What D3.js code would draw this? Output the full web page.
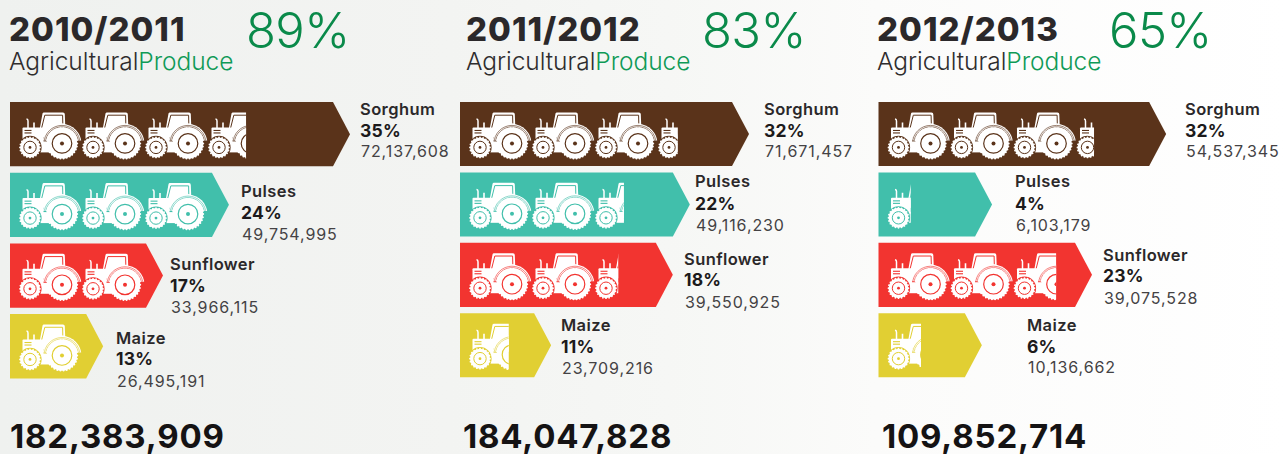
<!DOCTYPE html>
<html>
<head>
<meta charset="utf-8">
<script src="https://cdn.jsdelivr.net/npm/d3@7"></script>
<style>
  html, body { margin: 0; padding: 0; background: #fff; overflow: hidden; }
  svg { display: block; font-family: Inter, Lato, "Open Sans", sans-serif; }
</style>
</head>
<body>
<script>
// Seasons and headline figures
const seasons = ["2010/2011", "2011/2012", "2012/2013"];
const overallShare = [89, 83, 65];
const seasonTotals = [182383909, 184047828, 109852714];

// Crops, one row per crop in each season
const crops = ["Sorghum", "Pulses", "Sunflower", "Maize"];
const cropColors = ["#5a331a", "#41bfab", "#f23430", "#e1cf33"];

const sharePct = [
  [35, 24, 17, 13],
  [32, 22, 18, 11],
  [32, 4, 23, 6]
];
const production = [
  [72137608, 49754995, 33966115, 26495191],
  [71671457, 49116230, 39550925, 23709216],
  [54537345, 6103179, 39075528, 10136662]
];
// Tractors shown in each row, a fraction meaning a cut-off tractor
const tractorCount = [
  [3.65, 3, 2, 1],
  [3.33, 2.49, 2.39, 0.68],
  [3.29, 0.39, 2.73, 0.57]
];
// Arrow length as drawn, relative to the longest arrow (100)
const arrowLength = [
  [100, 64.4, 45, 27.4],
  [85, 67.6, 62.6, 26.8],
  [84.6, 33.4, 62.8, 30.4]
];

// Page layout
const width = 1287, height = 454;
const panelLeft = [10, 460, 878.5];
const titleLeft = [9, 466, 877];
const bigPctLeft = [246, 702, 1109];
const totalLeft = [10, 463, 882];
const rowsBottom = [378.4, 377.3, 377.3];
const rowsTop = 102;
const arrowHead = 17;
const labelLeft = [
  [360, 241, 170, 116],
  [764, 695, 684, 561],
  [1185, 1015, 1103, 1027]
];
const labelBaseline = [
  [[115, 137, 157], [197, 219, 240], [270, 292, 313], [344, 365, 387]],
  [[115, 137, 157], [187, 210, 231], [265, 286, 308], [331, 353, 374]],
  [[115, 137, 157], [187, 210, 231], [261, 282, 304], [331, 353, 373]]
];

const fmt = d3.format(",");
const arrowX = d3.scaleLinear().domain([0, 100]).range([0, 340]);
const tractorX = d3.scaleLinear().domain([0, 1]).range([10, 73]);
const tractorW = 57;

const svg = d3.select("body").append("svg")
  .attr("width", width).attr("height", height)
  .attr("viewBox", [0, 0, width, height]);

const defs = svg.append("defs");

// Backdrop fading from pale grey to white across the page
const bg = defs.append("linearGradient").attr("id", "backdrop");
[[0, "#eff1ef"], [0.35, "#f3f4f2"], [0.52, "#f6f7f5"], [0.68, "#fbfbfa"], [1, "#ffffff"]]
  .forEach(([o, c]) => bg.append("stop").attr("offset", o).attr("stop-color", c));
svg.append("rect").attr("width", width).attr("height", height).attr("fill", "url(#backdrop)");

// Tractor glyph: white silhouette, details take the row colour through currentColor
const glyph = defs.append("g").attr("id", "tractor");
const knobbedWheel = (cx, cy, r, knobs, knobR) => {
  glyph.append("circle").attr("cx", cx).attr("cy", cy).attr("r", r).attr("fill", "#fff");
  d3.range(knobs).forEach(i => {
    const a = i / knobs * 2 * Math.PI;
    glyph.append("circle")
      .attr("cx", cx + Math.cos(a) * r).attr("cy", cy + Math.sin(a) * r)
      .attr("r", knobR).attr("fill", "#fff");
  });
};
// cab and hood
glyph.append("path").attr("fill", "#fff")
  .attr("d", "M22.5,1.2Q22.7,0 24,0L43,0Q44.8,0 44.8,1.8L45.5,20L18,26Z");
glyph.append("path").attr("fill", "none").attr("stroke", "currentColor").attr("stroke-width", 1)
  .attr("d", "M20,22L24.8,2.8L42.6,2.8L42.8,11");
glyph.append("rect").attr("x", 2.5).attr("y", 15).attr("width", 21).attr("height", 16).attr("rx", 1).attr("fill", "#fff");
glyph.append("rect").attr("x", 4.5).attr("y", 17.5).attr("width", 7).attr("height", 1.1).attr("fill", "currentColor");
glyph.append("rect").attr("x", 4.5).attr("y", 20).attr("width", 7).attr("height", 1.1).attr("fill", "currentColor");
// exhaust stacks
glyph.append("path").attr("fill", "none").attr("stroke", "#fff").attr("stroke-width", 1.5)
  .attr("d", "M8,16L8,8.5Q8,6.8 6.5,6.6");
glyph.append("path").attr("fill", "none").attr("stroke", "#fff").attr("stroke-width", 1.6)
  .attr("d", "M14,16L14,10");
// chassis between the axles
glyph.append("rect").attr("x", 14).attr("y", 29).attr("width", 20).attr("height", 11).attr("fill", "#fff");
// mudguard over the rear wheel, ribbed with two thin arcs
glyph.append("circle").attr("cx", 42).attr("cy", 31).attr("r", 19.4)
  .attr("fill", "#fff").attr("clip-path", "url(#guardClip)");
defs.append("clipPath").attr("id", "guardClip")
  .append("rect").attr("x", 20).attr("y", 8).attr("width", 42).attr("height", 20);
[18, 16.6].forEach(r => {
  glyph.append("circle").attr("cx", 42).attr("cy", 31).attr("r", r)
    .attr("fill", "none").attr("stroke", "currentColor").attr("stroke-width", 0.6)
    .attr("clip-path", "url(#guardClip)");
});
// wheels
knobbedWheel(42, 31, 15.2, 30, 1);
glyph.append("circle").attr("cx", 42).attr("cy", 31).attr("r", 9.8).attr("fill", "none")
  .attr("stroke", "currentColor").attr("stroke-width", 1.2);
glyph.append("circle").attr("cx", 42).attr("cy", 31).attr("r", 2).attr("fill", "currentColor");
glyph.append("circle").attr("cx", 10).attr("cy", 35).attr("r", 11.6).attr("fill", "currentColor");
knobbedWheel(10, 35, 10, 20, 0.9);
glyph.append("circle").attr("cx", 10).attr("cy", 35).attr("r", 6.2).attr("fill", "none")
  .attr("stroke", "currentColor").attr("stroke-width", 1);
glyph.append("circle").attr("cx", 10).attr("cy", 35).attr("r", 1.4).attr("fill", "currentColor");

seasons.forEach((season, s) => {
  const panel = svg.append("g").attr("class", "season");

  // Season heading
  panel.append("text").attr("x", titleLeft[s]).attr("y", 41)
    .attr("font-size", 33).attr("font-weight", 800).attr("letter-spacing", 1)
    .attr("fill", "#2b282a").text(season);
  const sub = panel.append("text").attr("x", titleLeft[s]).attr("y", 70)
    .attr("font-size", 24.5).attr("font-weight", 300).attr("letter-spacing", -0.05);
  sub.append("tspan").attr("fill", "#2f2d2e").text("Agricultural");
  sub.append("tspan").attr("fill", "#0f9a57").text("Produce");
  panel.append("text").attr("x", bigPctLeft[s]).attr("y", 48)
    .attr("font-size", 49).attr("font-weight", 300).attr("letter-spacing", -0.6)
    .attr("fill", "#0a8a4a").text(overallShare[s] + "%");

  // Crop rows
  const rowY = d3.scaleBand().domain(crops)
    .range([rowsTop, rowsBottom[s]]).paddingInner(0.09).paddingOuter(0);

  crops.forEach((crop, c) => {
    const left = panelLeft[s], top = rowY(crop), h = rowY.bandwidth();
    const tip = left + arrowX(arrowLength[s][c]);
    const row = panel.append("g").attr("class", "row").style("color", cropColors[c]);

    const arrow = d3.path();
    arrow.moveTo(left, top);
    arrow.lineTo(tip - arrowHead, top);
    arrow.lineTo(tip, top + h / 2);
    arrow.lineTo(tip - arrowHead, top + h);
    arrow.lineTo(left, top + h);
    arrow.closePath();
    row.append("path").attr("d", arrow.toString()).attr("fill", cropColors[c]);

    // Whole tractors plus a cut-off last one
    const count = tractorCount[s][c];
    d3.range(Math.ceil(count)).forEach(i => {
      const visible = Math.min(1, count - i);
      const id = `cut-${s}-${c}-${i}`;
      defs.append("clipPath").attr("id", id).append("rect")
        .attr("x", -3).attr("y", -3)
        .attr("width", visible * tractorW + (visible < 1 ? 3 : 8)).attr("height", 56);
      row.append("g")
        .attr("transform", `translate(${left + tractorX(i)},${top + 10.4})`)
        .attr("clip-path", `url(#${id})`)
        .append("use").attr("href", "#tractor");
    });

    // Crop label, share and production figure
    const [y0, y1, y2] = labelBaseline[s][c];
    const x = labelLeft[s][c];
    panel.append("text").attr("x", x).attr("y", y0)
      .attr("font-size", 16.5).attr("font-weight", 600).attr("letter-spacing", 0.4)
      .attr("fill", "#2b282a").text(crop);
    panel.append("text").attr("x", x).attr("y", y1)
      .attr("font-size", 17.5).attr("font-weight", 700).attr("letter-spacing", 0.2)
      .attr("fill", "#1c1a1b").text(sharePct[s][c] + "%");
    panel.append("text").attr("x", x + 1).attr("y", y2)
      .attr("font-size", 16).attr("font-weight", 400).attr("letter-spacing", 0.9)
      .attr("fill", "#444244").text(fmt(production[s][c]));
  });

  // Season total
  panel.append("text").attr("x", totalLeft[s]).attr("y", 448)
    .attr("font-size", 33).attr("font-weight", 700).attr("letter-spacing", 0.8)
    .attr("fill", "#151314").text(fmt(seasonTotals[s]));
});
</script>
</body>
</html>
